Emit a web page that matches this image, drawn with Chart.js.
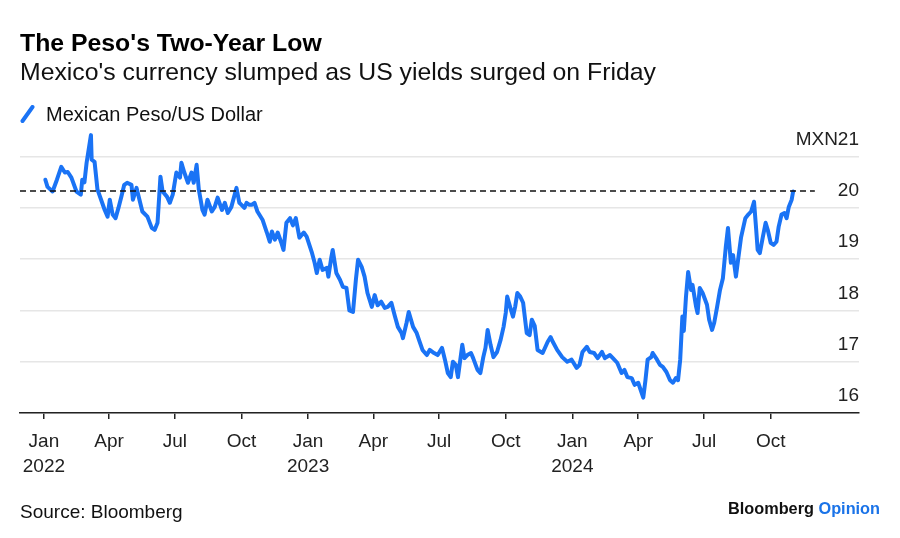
<!DOCTYPE html>
<html>
<head>
<meta charset="utf-8">
<script src="https://cdn.jsdelivr.net/npm/chart.js@4.4.1/dist/chart.umd.min.js"></script>
<style>
  html, body { margin: 0; padding: 0; background: #fff; }
  body { width: 900px; height: 538px; position: relative; overflow: hidden;
         font-family: "Liberation Sans", Arial, sans-serif; color: #000; }
  #wrap { position: absolute; left: 0; top: 0; width: 900px; height: 538px; }
  .t { position: absolute; white-space: nowrap; line-height: 1; }
  #title { left: 20px; top: 31px; font-size: 24.8px; font-weight: bold; color: #000; }
  #subtitle { left: 20px; top: 60px; font-size: 24.8px; color: #111; }
  #legend { left: 20px; top: 104px; font-size: 20px; color: #111; }
  #legend svg { position: absolute; left: 0; top: 1px; }
  #legend span { margin-left: 26px; }
  #source { left: 20px; top: 502px; font-size: 19px; color: #111; }
  #brand { right: 20px; top: 499.5px; font-size: 16.3px; font-weight: bold; color: #111; }
  #brand b { color: #1a73e8; font-weight: bold; }
</style>
</head>
<body>
<div id="wrap"><canvas id="c" width="900" height="538"></canvas></div>
<div class="t" id="title">The Peso's Two-Year Low</div>
<div class="t" id="subtitle">Mexico's currency slumped as US yields surged on Friday</div>
<div class="t" id="legend"><svg width="16" height="18"><line x1="2.5" y1="16" x2="12.5" y2="2" stroke="#1a73f5" stroke-width="4" stroke-linecap="round"/></svg><span>Mexican Peso/US Dollar</span></div>
<div class="t" id="source">Source: Bloomberg</div>
<div class="t" id="brand">Bloomberg <b>Opinion</b></div>
<script>
// ---- data ----
const dates = [
  '2022-01-03','2022-01-06','2022-01-13','2022-01-19','2022-01-25','2022-01-30','2022-02-03','2022-02-08',
  '2022-02-15','2022-02-21','2022-02-23','2022-02-26','2022-03-01','2022-03-07','2022-03-08','2022-03-12',
  '2022-03-16','2022-03-22','2022-03-26','2022-03-30','2022-04-02','2022-04-06','2022-04-10','2022-04-14',
  '2022-04-18','2022-04-22','2022-04-26','2022-05-02','2022-05-04','2022-05-09','2022-05-13','2022-05-17',
  '2022-05-24','2022-05-30','2022-06-03','2022-06-07','2022-06-11','2022-06-14','2022-06-20','2022-06-24',
  '2022-06-28','2022-07-03','2022-07-08','2022-07-10','2022-07-14','2022-07-19','2022-07-24','2022-07-27',
  '2022-07-31','2022-08-03','2022-08-08','2022-08-11','2022-08-15','2022-08-21','2022-08-25','2022-08-29',
  '2022-09-04','2022-09-08','2022-09-12','2022-09-17','2022-09-24','2022-09-28','2022-10-01','2022-10-05',
  '2022-10-08','2022-10-12','2022-10-15','2022-10-19','2022-10-23','2022-10-30','2022-11-05','2022-11-09',
  '2022-11-12','2022-11-16','2022-11-20','2022-11-25','2022-11-28','2022-12-02','2022-12-07','2022-12-11',
  '2022-12-15','2022-12-20','2022-12-26','2022-12-30',
  '2023-01-06','2023-01-10','2023-01-13','2023-01-17','2023-01-21','2023-01-27','2023-01-29','2023-02-02',
  '2023-02-04','2023-02-09','2023-02-14','2023-02-18','2023-02-23','2023-02-27','2023-03-04','2023-03-08',
  '2023-03-11','2023-03-16','2023-03-20','2023-03-24','2023-03-30','2023-04-03','2023-04-07','2023-04-12',
  '2023-04-17','2023-04-21','2023-04-26','2023-05-01','2023-05-05','2023-05-10','2023-05-12','2023-05-17',
  '2023-05-20','2023-05-26','2023-05-31','2023-06-04','2023-06-08','2023-06-14','2023-06-18','2023-06-24',
  '2023-06-29','2023-07-05','2023-07-09','2023-07-13','2023-07-17','2023-07-20','2023-07-24','2023-07-27',
  '2023-08-02','2023-08-05','2023-08-09','2023-08-14','2023-08-17','2023-08-23','2023-08-27','2023-08-31',
  '2023-09-03','2023-09-06','2023-09-10','2023-09-14','2023-09-19','2023-09-24','2023-09-28','2023-10-01',
  '2023-10-03','2023-10-07','2023-10-11','2023-10-14','2023-10-17','2023-10-21','2023-10-25','2023-10-30',
  '2023-11-03','2023-11-06','2023-11-10','2023-11-14','2023-11-21','2023-11-28','2023-12-02','2023-12-05',
  '2023-12-11','2023-12-18','2023-12-25','2023-12-31',
  '2024-01-07','2024-01-11','2024-01-15','2024-01-21','2024-01-25','2024-01-31','2024-02-05','2024-02-11',
  '2024-02-15','2024-02-22','2024-02-26','2024-03-03','2024-03-09','2024-03-13','2024-03-17','2024-03-23',
  '2024-03-27','2024-04-01','2024-04-08','2024-04-11','2024-04-14','2024-04-19','2024-04-21','2024-04-27',
  '2024-05-01','2024-05-05','2024-05-10','2024-05-15','2024-05-19','2024-05-23','2024-05-26','2024-05-29',
  '2024-06-01','2024-06-03','2024-06-06','2024-06-09','2024-06-13','2024-06-15','2024-06-20','2024-06-22',
  '2024-06-25','2024-06-29','2024-07-05','2024-07-08','2024-07-12','2024-07-15','2024-07-19','2024-07-23',
  '2024-07-27','2024-07-31','2024-08-03','2024-08-07','2024-08-10','2024-08-14','2024-08-17','2024-08-21',
  '2024-08-24','2024-08-27','2024-08-31','2024-09-04','2024-09-08','2024-09-11','2024-09-13','2024-09-16',
  '2024-09-20','2024-09-24','2024-09-27','2024-10-01','2024-10-05','2024-10-09','2024-10-12','2024-10-16',
  '2024-10-20','2024-10-23','2024-10-26','2024-10-30','2024-11-01'
];
const pesoPerDollar = [
  20.55,20.41,20.32,20.55,20.80,20.69,20.70,20.59,
  20.32,20.26,20.55,20.50,20.88,21.42,20.94,20.90,
  20.36,20.12,19.96,19.83,20.16,19.87,19.80,20.00,
  20.22,20.45,20.49,20.45,20.16,20.39,20.16,19.93,
  19.83,19.61,19.57,19.71,20.61,20.32,20.22,20.10,
  20.26,20.69,20.59,20.88,20.69,20.49,20.69,20.49,
  20.84,20.36,19.96,19.87,20.16,19.93,20.02,20.20,
  19.96,20.10,19.90,20.02,20.39,20.10,20.06,20.00,
  20.10,20.06,20.06,20.10,19.93,19.77,19.52,19.34,
  19.54,19.38,19.52,19.32,19.18,19.71,19.80,19.66,
  19.80,19.42,19.52,19.44,
  19.14,18.93,18.73,18.99,18.79,18.83,18.66,19.03,
  19.18,18.73,18.60,18.46,18.44,18.00,17.97,18.60,
  18.99,18.85,18.66,18.34,18.07,18.30,18.10,18.17,
  18.05,18.07,18.15,17.88,17.68,17.56,17.46,17.76,
  17.97,17.68,17.56,17.39,17.23,17.13,17.23,17.17,
  17.13,17.27,17.04,16.78,16.70,17.00,16.94,16.70,
  17.33,17.07,17.13,17.17,17.07,16.84,16.78,17.09,
  17.27,17.62,17.33,17.09,17.19,17.43,17.68,17.95,
  18.27,18.07,17.88,18.07,18.34,18.27,18.15,17.56,
  17.52,17.82,17.70,17.23,17.17,17.39,17.48,17.39,
  17.23,17.09,17.00,17.04,
  16.88,16.94,17.19,17.29,17.19,17.17,17.07,17.19,
  17.07,17.13,17.07,16.98,16.78,16.84,16.70,16.68,
  16.55,16.59,16.30,16.64,17.04,17.09,17.17,17.04,
  16.94,16.90,16.80,16.64,16.59,16.68,16.64,17.04,
  17.88,17.60,18.27,18.75,18.40,18.50,18.07,17.95,
  18.44,18.34,18.11,17.82,17.62,17.76,18.07,18.40,
  18.63,19.24,19.61,18.93,19.08,18.66,18.99,19.42,
  19.61,19.80,19.87,19.93,20.12,19.57,19.18,19.12,
  19.42,19.71,19.57,19.32,19.28,19.34,19.63,19.87,
  19.90,19.80,20.02,20.16,20.32
];
const referenceLevel = 20.33;
const referenceSpan = ['2021-11-29', '2024-12-01'];
const axisRange = ['2021-11-29', '2025-01-31'];
const xTickDates = ['2022-01-01','2022-04-01','2022-07-01','2022-10-01','2023-01-01','2023-04-01',
                    '2023-07-01','2023-10-01','2024-01-01','2024-04-01','2024-07-01','2024-10-01'];
const xTickLabels = [['Jan','2022'],'Apr','Jul','Oct',['Jan','2023'],'Apr','Jul','Oct',['Jan','2024'],'Apr','Jul','Oct'];
const yTickValues = [16, 17, 18, 19, 20, 21];
const yTickLabels = ['16', '17', '18', '19', '20', 'MXN21'];

// ---- build chart ----
const t = s => Date.parse(s + 'T00:00:00Z');
const series = dates.map((d, i) => ({ x: t(d), y: pesoPerDollar[i] }));
const refLine = referenceSpan.map(d => ({ x: t(d), y: referenceLevel }));
const FONT = '"Liberation Sans", Arial, sans-serif';

new Chart(document.getElementById('c'), {
  type: 'line',
  data: {
    datasets: [
      { label: 'Reference', data: refLine, borderColor: '#111', borderWidth: 1.7,
        borderDash: [6, 4], pointRadius: 0, fill: false, order: 0 },
      { label: 'Mexican Peso/US Dollar', data: series, borderColor: '#1a73f5', borderWidth: 4,
        pointRadius: 0, tension: 0, fill: false, borderJoinStyle: 'round', borderCapStyle: 'round', order: 1 }
    ]
  },
  options: {
    responsive: false,
    animation: false,
    devicePixelRatio: 1,
    layout: { padding: { left: 20, right: 41, top: 131, bottom: 0 } },
    plugins: { legend: { display: false }, title: { display: false }, tooltip: { enabled: false } },
    scales: {
      x: {
        type: 'linear',
        min: t(axisRange[0]), max: t(axisRange[1]),
        afterBuildTicks: s => { s.ticks = xTickDates.map(d => ({ value: t(d) })); },
        afterFit: s => { s.height = 125; },
        grid: { drawOnChartArea: false, drawTicks: true, tickLength: 6, color: '#222', lineWidth: 1.5 },
        border: { display: true, color: '#222', width: 1.5 },
        ticks: {
          autoSkip: false, maxRotation: 0, padding: 10, color: '#222',
          font: { family: FONT, size: 19, lineHeight: '25px' },
          callback: (v, i) => xTickLabels[i]
        }
      },
      y: {
        type: 'linear',
        position: 'right',
        min: 16, max: 21.5,
        afterBuildTicks: s => { s.ticks = yTickValues.map(v => ({ value: v })); },
        afterFit: s => { s.width = 0; },
        grid: { color: '#e6e6e6', lineWidth: 1.5, drawTicks: false },
        border: { display: false },
        ticks: {
          mirror: true, padding: 0, labelOffset: -17, color: '#222',
          font: { family: FONT, size: 19 },
          callback: (v, i) => yTickLabels[i]
        }
      }
    }
  }
});
</script>
</body>
</html>
